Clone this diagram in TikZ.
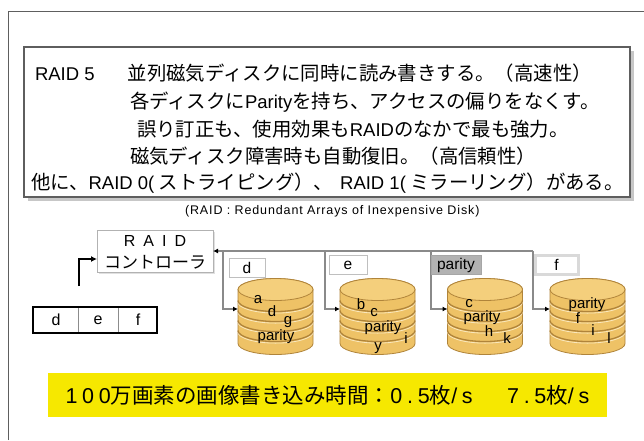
\documentclass[tikz,border=0pt]{standalone}
\usepackage{fontspec}
\setmainfont{Noto Sans CJK JP}
\newfontfamily\latinface{Liberation Sans}
\newfontfamily\glossface[LetterSpace=7]{Liberation Sans}
\newfontfamily\bandlatin[LetterSpace=22]{Liberation Sans}
\usetikzlibrary{arrows.meta}
\definecolor{diskbody}{HTML}{EEC266}
\definecolor{disktop}{HTML}{F4CF7C}
\definecolor{diskedge}{HTML}{B0843A}
\definecolor{bandyellow}{HTML}{F6E800}
\definecolor{busgray}{HTML}{8A8A8A}
\definecolor{framegray}{HTML}{5E5E5E}
\newcommand{\fsz}[1]{\fontsize{#1}{#1}\selectfont}
\newcommand{\lt}[1]{{\latinface\fontsize{18.5}{18.5}\selectfont #1}}
\newcommand{\bl}[1]{{\bandlatin #1}}
\begin{document}
\begin{tikzpicture}[x=1pt,y=-1pt,
  every node/.style={inner sep=0pt,outer sep=0pt,text=black},
  infotext/.style={anchor=west,font=\fsz{19.4}},
  bus/.style={draw=busgray,line width=1.6pt},
  feed/.style={bus,-{Latex[length=5pt,width=5pt,color=black]}},
  tagbox/.style={draw=black!25,line width=1pt,fill=white,minimum height=19pt,font=\latinface\fsz{15.5}},
  disklabel/.style={font=\latinface\fsz{15}},
  diskslot/.style={minimum width=75pt,minimum height=76pt},
  cyl/.pic={
    \path[fill=diskbody,draw=diskedge,line width=0.8pt]
      (-37.5,-27) -- (-37.5,27) arc[start angle=180,end angle=0,x radius=37.5,y radius=11]
      -- (37.5,-27) arc[start angle=0,end angle=-180,x radius=37.5,y radius=11] -- cycle;
    \foreach \yy in {-16,-6,4,14}{
      \draw[disktop!50!white,line width=0.8pt] (-37.5,\yy+1.6) arc[start angle=180,end angle=0,x radius=37.5,y radius=11];
      \draw[diskedge,line width=1.3pt] (-37.5,\yy) arc[start angle=180,end angle=0,x radius=37.5,y radius=11];
    }
    \path[fill=disktop,draw=diskedge,line width=0.8pt] (0,-27) ellipse[x radius=37.5,y radius=11];
  },
]
\useasboundingbox (0,0) rectangle (644,440);
\fill[white] (0,0) rectangle (644,440);

% outer frame
\draw[framegray,line width=1pt] (8,440) -- (8,11) -- (644,11);

% description panel
\fill[black!22] (28,51) rectangle (634,201);
\node[draw=framegray,line width=2.5pt,fill=white,minimum width=606pt,minimum height=150pt] (info) at (327,122) {};
\node[infotext] (l1) at (35,73) {\lt{RAID 5}\hspace{1.7em}並列磁気ディスクに同時に読み書きする。（高速性）};
\node[infotext] (l2) at (130,102) {各ディスクに\lt{Parity}を持ち、アクセスの偏りをなくす。};
\node[infotext] (l3) at (137,129) {誤り訂正も、使用効果も\lt{RAID}のなかで最も強力。};
\node[infotext] (l4) at (130,156) {磁気ディスク障害時も自動復旧。（高信頼性）};
\node[infotext] (l5) at (31,183) {他に、\lt{RAID 0(} ストライピング）、\hspace{0.35em}\lt{RAID 1(} ミラーリング）がある。};
\node[anchor=west,font=\glossface\fsz{12.5}] (gloss) at (185,211) {(RAID : Redundant Arrays of Inexpensive Disk)};

% controller
\fill[black!12] (99,232) rectangle (215,274);
\node[draw=black!30,line width=1pt,fill=white,minimum width=116pt,minimum height=42pt] (ctrl) at (155,251) {};
\node[font=\latinface\fsz{16}] (ctrlA) at (155,241) {R\hspace{0.5em}A\hspace{0.5em}I\hspace{0.5em}D};
\node[font=\fsz{17}] (ctrlB) at (155,262) {コントローラ};

% write buffer
\node[draw=black,line width=2.4pt,fill=white,minimum width=124pt,minimum height=26pt] (buf) at (95,320) {};
\draw[black!45,line width=1pt] (78,308) -- (78,332) (118,308) -- (118,332);
\node[font=\latinface\fsz{16}] (bd) at (56,320) {d};
\node[font=\latinface\fsz{16}] (be) at (98,320) {e};
\node[font=\latinface\fsz{16}] (bf) at (138,320) {f};
\coordinate (src) at (79,286);
\draw[line width=2pt,-{Latex[length=6pt,width=6pt]}] (src) |- ([yshift=-8pt]ctrl.west);

% disks
\node[diskslot] (disk1) at (275.5,316.5) {};
\node[diskslot] (disk2) at (377.5,316.5) {};
\node[diskslot] (disk3) at (485,316.5) {};
\node[diskslot] (disk4) at (587.5,316.5) {};
\pic at (disk1) {cyl};
\pic at (disk2) {cyl};
\pic at (disk3) {cyl};
\pic at (disk4) {cyl};

% bus
\coordinate (j1) at (223,251);
\coordinate (j2) at (325,251);
\coordinate (j3) at (431,251);
\coordinate (j4) at (533,251);
\draw[feed] (j4) -- (ctrl.east);
\draw[feed] (j1) |- ([yshift=7.5pt]disk1.west);
\draw[feed] (j2) |- ([yshift=7.5pt]disk2.west);
\draw[feed] (j3) |- ([yshift=7.5pt]disk3.west);
\draw[feed] (j4) |- ([yshift=7.5pt]disk4.west);

% stripe tags
\node[tagbox,minimum width=36pt] (tagd) at (247,267.5) {d};
\node[tagbox,minimum width=38pt] (tage) at (348,265) {e};
\node[tagbox,minimum width=50pt,fill=black!30,draw=black!35] (tagp) at (456,265) {parity};
\node[tagbox,minimum width=43pt,draw=black!15,line width=3pt] (tagf) at (556.5,265) {f};

% disk contents
\node[disklabel] (a1) at (258,300) {a};
\node[disklabel] (a2) at (272,311) {d};
\node[disklabel] (a3) at (288,322) {g};
\node[disklabel] (a4) at (276,337) {parity};
\node[disklabel] (b1) at (361,304) {b};
\node[disklabel] (b2) at (374,313) {c};
\node[disklabel] (b3) at (383,328) {parity};
\node[disklabel] (b4) at (406,338) {i};
\node[disklabel] (b5) at (378,348) {y};
\node[disklabel] (c1) at (469,304) {c};
\node[disklabel] (c2) at (482,318) {parity};
\node[disklabel] (c3) at (489,331) {h};
\node[disklabel] (c4) at (507,338) {k};
\node[disklabel] (d1) at (587,305) {parity};
\node[disklabel] (d2) at (578,318) {f};
\node[disklabel] (d3) at (593,330) {i};
\node[disklabel] (d4) at (609,338) {l};

% throughput band
\node[fill=bandyellow,minimum width=559pt,minimum height=44pt,font=\fsz{21.5}] (speed) at (327.5,395) {\bl{100}万画素の画像書き込み時間：\bl{0.5}枚\bl{/s}\hspace{1.6em}\bl{7.5}枚\bl{/s}};
\end{tikzpicture}
\end{document}
